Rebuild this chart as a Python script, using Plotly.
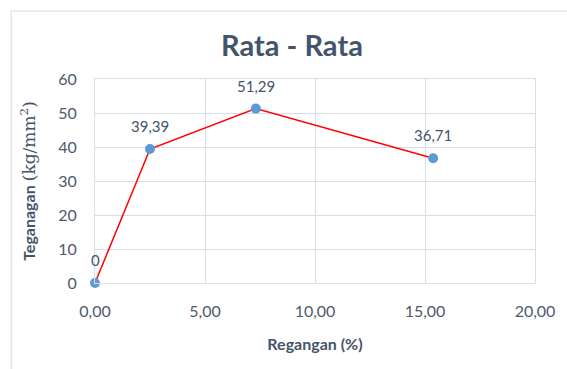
import plotly.graph_objects as go

# Stress-strain averages
regangan = [0.0, 2.50, 7.31, 15.37]          # strain (%)
teganagan = [0.0, 39.39, 51.29, 36.71]       # stress (kg/mm^2)
label_teks = ["0", "39,39", "51,29", "36,71"]

x_ticks = [0, 5, 10, 15, 20]
y_ticks = [0, 10, 20, 30, 40, 50, 60]

TEXT = "#44546A"
TICK = "#4E5A6B"
GRID = "#D9DEE6"
FONT = "Lato"

fig = go.Figure()
fig.add_trace(go.Scatter(
    x=regangan, y=teganagan,
    mode="lines+markers",
    line=dict(color="#FF0000", width=1.5),
    marker=dict(color="#5B9BD5", size=10),
    cliponaxis=False,
    hoverinfo="skip",
))

for xv, yv, t in zip(regangan, teganagan, label_teks):
    fig.add_annotation(
        x=xv, y=yv, text=t, showarrow=False,
        yshift=23, font=dict(family=FONT, size=15, color=TEXT),
    )

# outer chart frame
fig.add_shape(
    type="rect", xref="paper", yref="paper",
    x0=-0.1906, x1=1.10, y0=-0.48, y1=1.333,
    line=dict(color="#D9D9D9", width=1), fillcolor="rgba(0,0,0,0)",
    layer="below",
)

fig.update_layout(
    width=567, height=369,
    margin=dict(l=95, r=26, t=79, b=86),
    paper_bgcolor="white", plot_bgcolor="white",
    separators=",.",
    showlegend=False,
    title=dict(
        text="<b>Rata - Rata</b>",
        x=0.515, xanchor="center", y=1 - 46 / 369, yanchor="middle",
        font=dict(family=FONT, size=29, color=TEXT),
    ),
    xaxis=dict(
        range=[0, 20], tickvals=x_ticks, tickformat=".2f",
        showgrid=True, gridcolor=GRID, gridwidth=1,
        zeroline=False, showline=True, linecolor=GRID, linewidth=1,
        mirror=True, ticks="", ticklabelstandoff=14,
        tickfont=dict(family=FONT, size=16, color=TICK),
        title=dict(text="<b>Regangan (%)</b>", standoff=19,
                   font=dict(family=FONT, size=16, color=TEXT)),
    ),
    yaxis=dict(
        range=[0, 60], tickvals=y_ticks,
        showgrid=True, gridcolor=GRID, gridwidth=1,
        zeroline=False, showline=True, linecolor=GRID, linewidth=1,
        mirror=True, ticks="", ticklabelstandoff=14,
        tickfont=dict(family=FONT, size=16, color=TICK),
        title=dict(
            text="<b>Teganagan</b> <span style=\"font-family:'DejaVu Serif';font-weight:normal;font-size:17px\">(kg/mm<sup>2</sup>)</span>",
            standoff=18,
            font=dict(family=FONT, size=16, color=TEXT)),
    ),
)

fig.write_html("out.html")
